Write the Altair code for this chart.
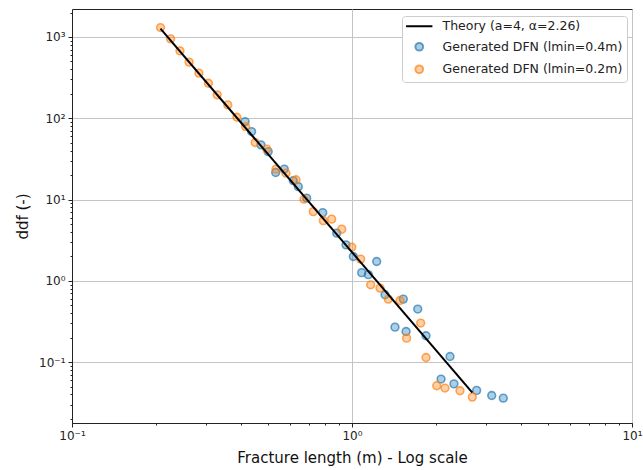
import altair as alt
import pandas as pd

# ---- labels ----
theory_label = "Theory (a=4, α=2.26)"
dfn04_label = "Generated DFN (lmin=0.4m)"
dfn02_label = "Generated DFN (lmin=0.2m)"

# ---- theory line (end points) ----
theory_length = [0.207, 2.69]
theory_ddf = [1270, 0.042]

# ---- generated DFN, lmin = 0.4 m ----
dfn04_length = [0.415, 0.438, 0.473, 0.502, 0.534, 0.573, 0.617, 0.643, 0.689, 0.786,
                0.882, 0.952, 1.011, 1.083, 1.144, 1.225, 1.312, 1.424, 1.525, 1.56,
                1.717, 1.838, 2.08, 2.239, 2.313, 2.787, 3.155, 3.47]
dfn04_ddf = [91, 68.6, 47.1, 38.9, 21.5, 23.7, 17.1, 14.4, 10.4, 6.9,
             3.86, 2.77, 1.99, 1.26, 1.19, 1.73, 0.673, 0.269, 0.596, 0.238,
             0.449, 0.211, 0.0618, 0.117, 0.054, 0.0448, 0.0388, 0.036]

# ---- generated DFN, lmin = 0.2 m ----
dfn02_length = [0.207, 0.225, 0.243, 0.262, 0.284, 0.307, 0.330, 0.360, 0.388, 0.417,
                0.451, 0.496, 0.535, 0.581, 0.631, 0.674, 0.727, 0.790, 0.846, 0.919,
                0.998, 1.074, 1.166, 1.259, 1.348, 1.484, 1.567, 1.759, 1.838, 2.007,
                2.148, 2.43, 2.69]
dfn02_ddf = [1306, 948, 675, 490, 359, 270, 194, 146, 103, 79,
             50.3, 41.7, 23.6, 21.1, 17.5, 10.1, 7.1, 5.5, 5.74, 4.32,
             2.6, 1.85, 0.893, 0.813, 0.596, 0.573, 0.197, 0.302, 0.114, 0.0511,
             0.0479, 0.0444, 0.0371]

# ---- tick values ----
x_ticks = [0.1, 0.2, 0.3, 0.4, 0.5, 0.6, 0.7, 0.8, 0.9,
           1, 2, 3, 4, 5, 6, 7, 8, 9, 10]
y_ticks = [0.02, 0.03, 0.04, 0.05, 0.06, 0.07, 0.08, 0.09,
           0.1, 0.2, 0.3, 0.4, 0.5, 0.6, 0.7, 0.8, 0.9,
           1, 2, 3, 4, 5, 6, 7, 8, 9,
           10, 20, 30, 40, 50, 60, 70, 80, 90,
           100, 200, 300, 400, 500, 600, 700, 800, 900,
           1000, 2000]

series_domain = [theory_label, dfn04_label, dfn02_label]
fill_range = ["#000000", "rgba(31,119,180,0.36)", "rgba(255,127,14,0.36)"]
stroke_range = ["#000000", "rgba(31,119,180,0.68)", "rgba(255,127,14,0.68)"]
shape_range = ["M-3.4,0L3.4,0", "circle", "circle"]

points_df = pd.concat([
    pd.DataFrame({"length": dfn04_length, "ddf": dfn04_ddf, "series": dfn04_label}),
    pd.DataFrame({"length": dfn02_length, "ddf": dfn02_ddf, "series": dfn02_label}),
], ignore_index=True)
theory_df = pd.DataFrame({"length": theory_length, "ddf": theory_ddf})

major_test = "abs(log(datum.value)/LN10 - round(log(datum.value)/LN10)) < 0.001"
e = "round(log(datum.value)/LN10)"
label_expr = (f"({major_test}) ? ({e} == -1 ? '10⁻¹' : {e} == 0 ? '10⁰' : "
              f"{e} == 1 ? '10¹' : {e} == 2 ? '10²' : '10³') : ''")


def make_axis(values, title, title_padding):
    return alt.Axis(
        values=values, title=title, labelExpr=label_expr, labelOverlap=False,
        labelFlush=False,
        tickSize={"condition": {"test": major_test, "value": 4}, "value": 2},
        gridOpacity={"condition": {"test": major_test, "value": 1}, "value": 0},
        grid=True, gridColor="#c4c4c4", gridWidth=1,
        domainColor="#222222", tickColor="#222222", tickWidth=1,
        labelFont="DejaVu Sans", labelFontSize=12, labelColor="#222222", labelPadding=3,
        titleFont="DejaVu Sans", titleFontSize=15, titleFontWeight="normal",
        titleColor="#111111", titlePadding=title_padding,
    )


x_enc = alt.X("length:Q", scale=alt.Scale(type="log", domain=[0.1, 10], nice=False),
              axis=make_axis(x_ticks, "Fracture length (m) - Log scale", 9))
y_enc = alt.Y("ddf:Q", scale=alt.Scale(type="log", domain=[0.0178, 2210], nice=False),
              axis=make_axis(y_ticks, "ddf (-)", 8))

legend = alt.Legend(
    title=None, orient="none", legendX=330, legendY=7, direction="vertical",
    fillColor="white", strokeColor="#cccccc", cornerRadius=3, padding=4,
    labelFont="DejaVu Sans", labelFontSize=12.5, labelColor="#222222", labelLimit=300,
    symbolSize=60, symbolStrokeWidth=2, symbolOffset=7, labelOffset=17, rowPadding=5.5,
)

points = alt.Chart(points_df).mark_point(filled=True, size=60, strokeWidth=1.6, opacity=1).encode(
    x=x_enc,
    y=y_enc,
    fill=alt.Fill("series:N", scale=alt.Scale(domain=series_domain, range=fill_range), legend=legend),
    stroke=alt.Stroke("series:N", scale=alt.Scale(domain=series_domain, range=stroke_range), legend=legend),
    shape=alt.Shape("series:N", scale=alt.Scale(domain=series_domain, range=shape_range), legend=legend),
)

line = alt.Chart(theory_df).mark_line(color="black", strokeWidth=2).encode(x=x_enc, y=y_enc)

chart = alt.layer(points, line).properties(
    width=560, height=414,
    autosize=alt.AutoSizeParams(type="none"),
    padding={"left": 72, "top": 9, "right": 11, "bottom": 47},
).configure_view(stroke="#222222", strokeWidth=1)

chart.save("out.html", embed_options={"renderer": "svg", "actions": False})
